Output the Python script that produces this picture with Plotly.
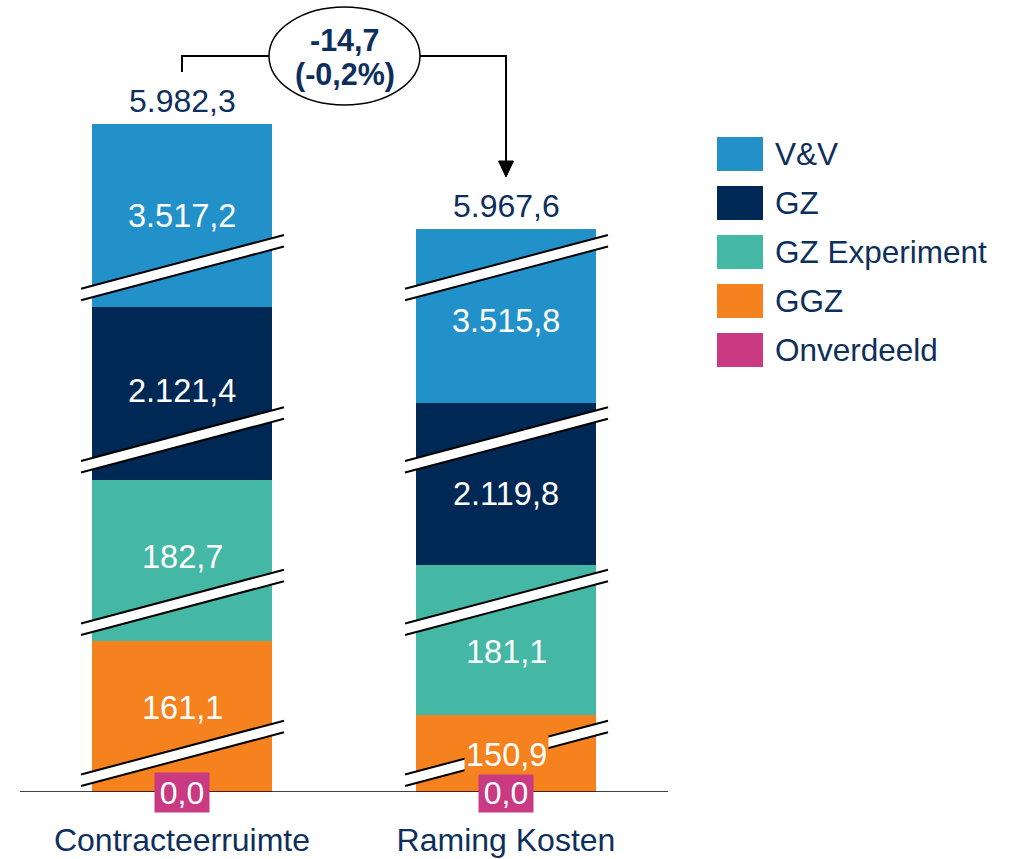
import plotly.graph_objects as go

# categories and series
categories = ["Contracteerruimte", "Raming Kosten"]
series_names = ["V&V", "GZ", "GZ Experiment", "GGZ", "Onverdeeld"]
series_colors = ["#2391C9", "#002855", "#44B8A5", "#F5821F", "#C93A82"]

# values (mln), as labelled in the picture
vv_values = [3517.2, 3515.8]
gz_values = [2121.4, 2119.8]
gz_exp_values = [182.7, 181.1]
ggz_values = [161.1, 150.9]
onverdeeld_values = [0.0, 0.0]
totals = [5982.3, 5967.6]

# drawn height of each (cut) segment on the broken scale
vv_heights = [183, 174]
gz_heights = [173, 162]
gz_exp_heights = [161, 150]
ggz_heights = [151, 77]
onverdeeld_heights = [0, 0]

NAVY = "#0E2F5C"
FONT = "Liberation Sans, Arial, sans-serif"
W, H = 1009, 859
BASE = 792          # baseline, px from top
X0, STEP = 182, 324  # px of first category, px between categories
BAR_W = 180


def fmt(v, dec=1):
    s = f"{v:,.{dec}f}"
    return s.replace(",", "#").replace(".", ",").replace("#", ".")


def xp(px):
    return px / W


def yv(py):
    return BASE - py


# bottom-up stacking order
stack = [
    ("Onverdeeld", onverdeeld_values, onverdeeld_heights),
    ("GGZ", ggz_values, ggz_heights),
    ("GZ Experiment", gz_exp_values, gz_exp_heights),
    ("GZ", gz_values, gz_heights),
    ("V&V", vv_values, vv_heights),
]
color_of = dict(zip(series_names, series_colors))

fig = go.Figure()
for name, vals, hts in stack:
    fig.add_trace(go.Bar(
        x=categories, y=hts, name=name, customdata=vals,
        marker=dict(color=color_of[name], line=dict(width=0)),
        width=BAR_W / STEP, showlegend=False,
        hovertemplate="%{x}<br>" + name + ": %{customdata}<extra></extra>",
    ))

shapes = []
annotations = []

# segment labels
label_nudge = {  # small vertical offsets (px) seen in the picture
    ("V&V", 0): 0, ("V&V", 1): 5, ("GZ", 0): -3, ("GZ", 1): 10,
    ("GZ Experiment", 0): -4, ("GZ Experiment", 1): 12,
    ("GGZ", 0): -9, ("GGZ", 1): 1,
}
for i, cat in enumerate(categories):
    bottom = 0
    for name, vals, hts in stack:
        if name == "Onverdeeld":
            annotations.append(dict(
                x=i, y=0, xref="x", yref="y", text=fmt(vals[i]), showarrow=False,
                font=dict(family=FONT, size=32, color="white"),
                bgcolor=color_of[name], width=54, height=39, borderpad=0,
                xanchor="center", yanchor="middle"))
        else:
            annotations.append(dict(
                x=i, y=bottom + hts[i] / 2 - label_nudge[(name, i)], xref="x", yref="y",
                text=fmt(vals[i]), showarrow=False,
                font=dict(family=FONT, size=32.5, color="white"),
                bgcolor=color_of[name], borderpad=1,
                xanchor="center", yanchor="middle"))
        bottom += hts[i]
    # total above bar
    annotations.append(dict(
        x=i, y=bottom + 23, xref="x", yref="y", text=fmt(totals[i]), showarrow=False,
        font=dict(family=FONT, size=32, color=NAVY), xanchor="center", yanchor="middle"))

# axis-break marks (same heights on both bars)
break_levels = [267.75, 440, 602.5, 753.5]
for i in range(len(categories)):
    c = X0 + STEP * i
    lx, rx = c - 101, c + 102
    for lvl in break_levels:
        yl = lvl + (c - lx) * 53.5 / 202
        yr = lvl - (rx - c) * 53.5 / 202
        shapes.append(dict(
            type="path", xref="paper", yref="y", layer="above",
            path=f"M {xp(lx)} {yv(yl - 5.75)} L {xp(rx)} {yv(yr - 5.75)} "
                 f"L {xp(rx)} {yv(yr + 5.75)} L {xp(lx)} {yv(yl + 5.75)} Z",
            fillcolor="white", line=dict(width=0)))
        for off in (-5.75, 5.75):
            shapes.append(dict(
                type="line", xref="paper", yref="y", layer="above",
                x0=xp(lx), y0=yv(yl + off), x1=xp(rx), y1=yv(yr + off),
                line=dict(color="black", width=2)))

# baseline
shapes.append(dict(type="line", xref="paper", yref="y", x0=xp(20), x1=xp(668),
                   y0=0, y1=0, line=dict(color="black", width=1.5), layer="above"))

# difference bracket + bubble
diff = totals[1] - totals[0]
pct = diff / totals[0] * 100
c0, c1 = X0, X0 + STEP
shapes.append(dict(type="path", xref="paper", yref="y",
                   path=f"M {xp(c0)} {yv(72)} L {xp(c0)} {yv(56)} L {xp(269)} {yv(56)}",
                   line=dict(color="black", width=2)))
shapes.append(dict(type="path", xref="paper", yref="y",
                   path=f"M {xp(420)} {yv(56)} L {xp(c1)} {yv(56)} L {xp(c1)} {yv(162)}",
                   line=dict(color="black", width=2)))
shapes.append(dict(type="path", xref="paper", yref="y",
                   path=f"M {xp(c1 - 7.5)} {yv(161)} L {xp(c1 + 7.5)} {yv(161)} "
                        f"L {xp(c1)} {yv(177)} Z",
                   fillcolor="black", line=dict(color="black", width=1)))
shapes.append(dict(type="circle", xref="paper", yref="y",
                   x0=xp(269), x1=xp(420), y0=yv(105), y1=yv(7),
                   fillcolor="white", line=dict(color="black", width=1.5)))
annotations.append(dict(x=xp(344.5), y=yv(40), xref="paper", yref="y", showarrow=False,
                        text=f"<b>{fmt(diff)}</b>",
                        font=dict(family=FONT, size=30.5, color=NAVY)))
annotations.append(dict(x=xp(344.5), y=yv(74), xref="paper", yref="y", showarrow=False,
                        text=f"<b>({fmt(pct)}%)</b>",
                        font=dict(family=FONT, size=30.5, color=NAVY)))

# legend drawn by hand (large swatches)
for k, (name, col) in enumerate(zip(series_names, series_colors)):
    top = 137 + 49 * k
    shapes.append(dict(type="rect", xref="paper", yref="y",
                       x0=xp(717), x1=xp(763), y0=yv(top + 34), y1=yv(top),
                       fillcolor=col, line=dict(width=0)))
    annotations.append(dict(x=xp(773), y=yv(top + 17), xref="paper", yref="y",
                            text=name, showarrow=False, xanchor="left", yanchor="middle",
                            font=dict(family=FONT, size=31.5, color=NAVY)))

fig.update_layout(
    width=W, height=H,
    margin=dict(l=0, r=0, t=0, b=H - BASE, pad=0),
    barmode="stack",
    paper_bgcolor="white", plot_bgcolor="white",
    showlegend=False,
    shapes=shapes, annotations=annotations,
    font=dict(family=FONT, color=NAVY),
    xaxis=dict(range=[-X0 / STEP, (W - X0) / STEP], showgrid=False, zeroline=False,
               showline=False, ticks="", tickfont=dict(family=FONT, size=32, color=NAVY),
               ticklabelstandoff=26, fixedrange=True),
    yaxis=dict(range=[0, BASE], visible=False, fixedrange=True),
)

# drop the default page margin so the figure sits at the window's top-left
fig.write_html("out.html", config={"displayModeBar": False},
               post_script="document.body.style.margin='0';document.body.style.overflow='hidden';")
